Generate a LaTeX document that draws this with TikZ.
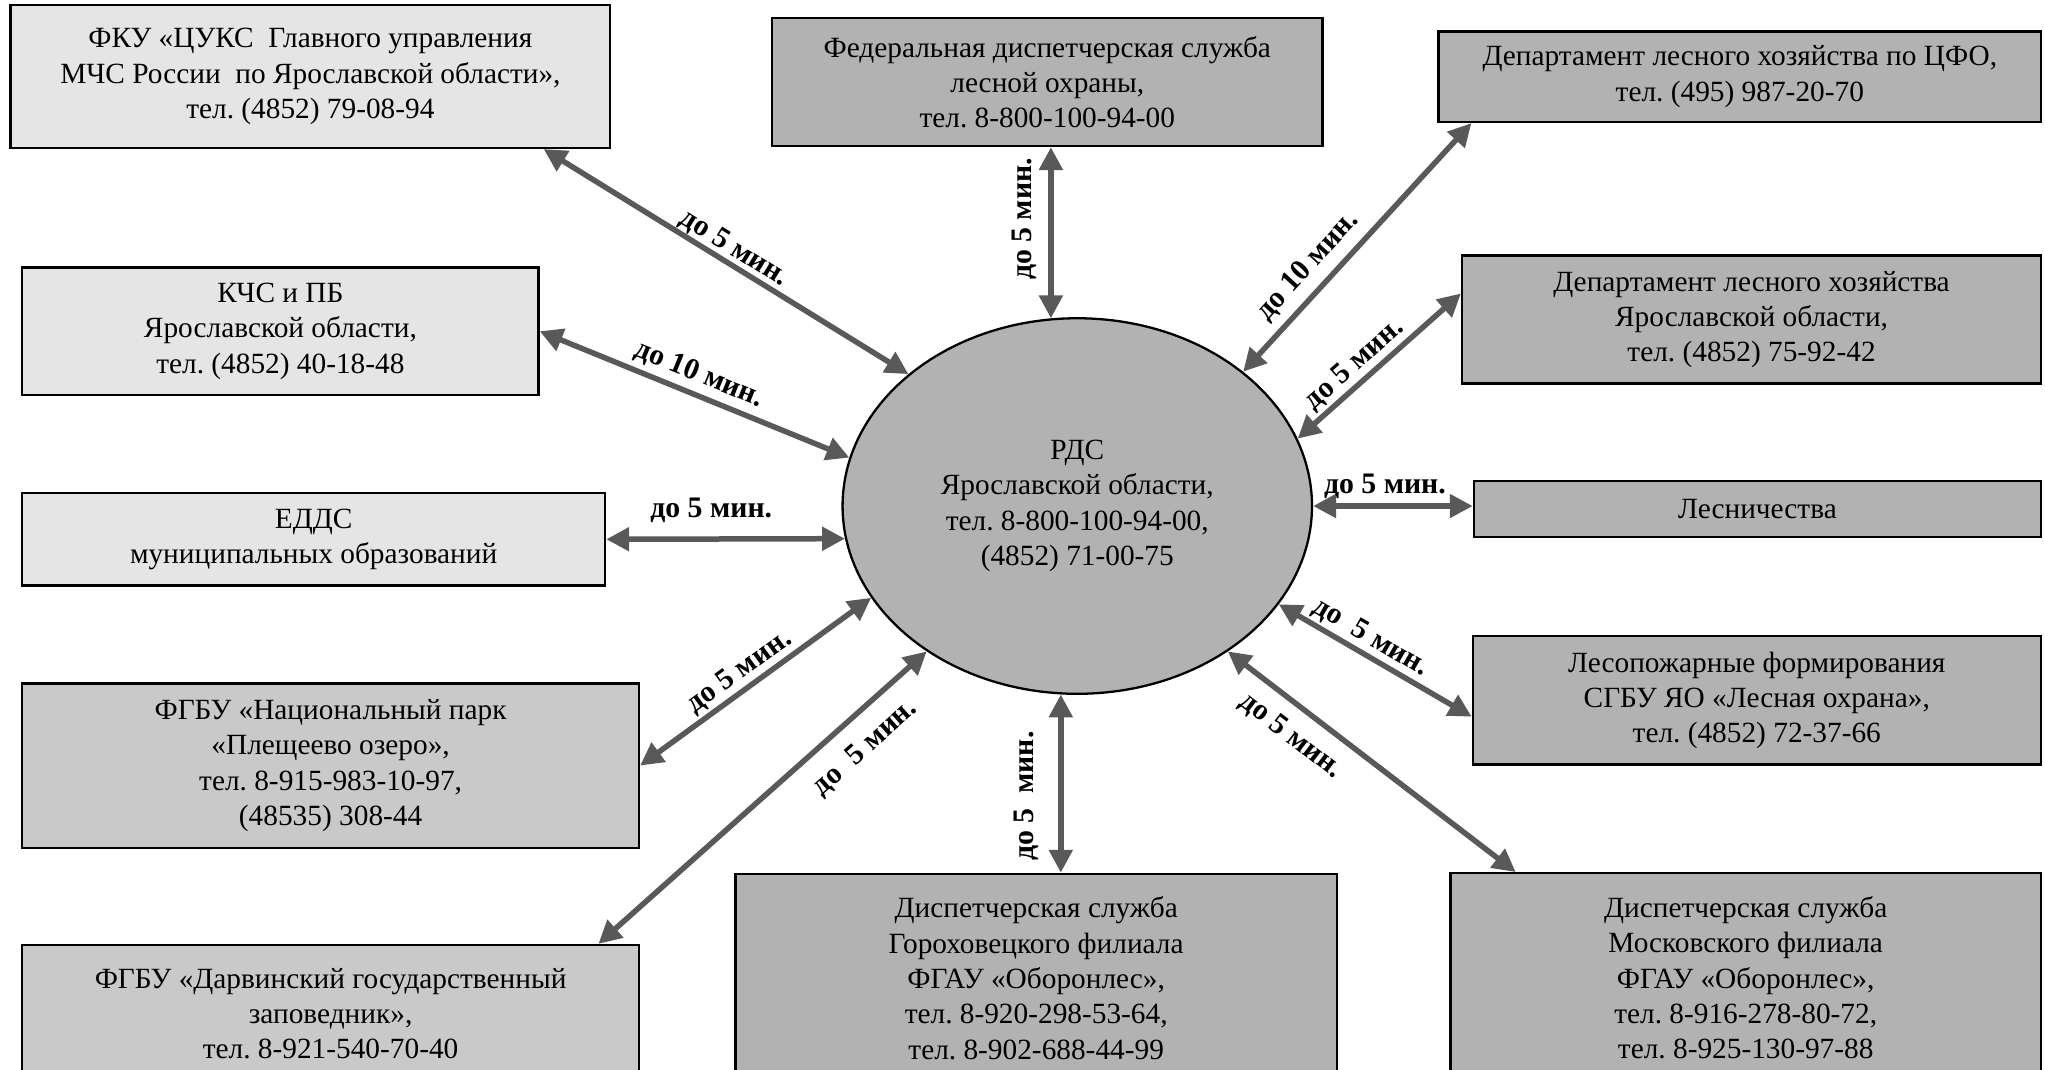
\documentclass[tikz,border=0pt]{standalone}
\usepackage{fontspec}
\setmainfont{Liberation Serif}
\usepackage{tikz}
\usetikzlibrary{arrows.meta,calc,shapes.geometric}
\frenchspacing

\tikzset{
  box/.style={draw, line width=1pt, align=center, inner sep=2pt, font=\fontsize{12.8}{15.4}\selectfont},
  boxlight/.style={box, fill=black!10},
  boxmid/.style={box, fill=black!21},
  boxdark/.style={box, fill=black!30},
  link/.style={line width=2.4pt, draw=black!65, {Triangle[length=10pt,width=10pt]}-{Triangle[length=10pt,width=10pt]}},
  lbl/.style={font=\fontsize{13}{15}\selectfont\bfseries, inner sep=0pt, sloped}
}

\begin{document}
\begin{tikzpicture}[x=0.02cm, y=-0.02cm]
    \useasboundingbox (0,0) rectangle (1568,820);
    %
    \node[boxdark, ellipse, inner sep=0pt, minimum width=7.2cm, minimum height=5.76cm] (rds) at (826,388) {РДС\\Ярославской области,\\тел. 8-800-100-94-00,\\(4852) 71-00-75};

    \node[boxlight, minimum width=9.2cm, minimum height=2.19cm] (fku) at (238,58.75) {ФКУ «ЦУКС\ \ Главного управления\\МЧС России\ \ по Ярославской области»,\\тел. (4852) 79-08-94};
    \node[boxlight, minimum width=7.92cm, minimum height=1.96cm] (kchs) at (215,254) {КЧС и ПБ\\Ярославской области,\\тел. (4852) 40-18-48};
    \node[boxlight, minimum width=8.94cm, minimum height=1.42cm] (edds) at (240.5,413.5) {ЕДДС\\муниципальных образований};
    \node[boxmid, minimum width=9.46cm, minimum height=2.52cm] (park) at (253.5,587) {ФГБУ «Национальный парк\\«Плещеево озеро»,\\тел. 8-915-983-10-97,\\(48535) 308-44};
    \node[boxmid, minimum width=9.46cm, minimum height=2.11cm] (darw) at (253.5,777.3) {ФГБУ «Дарвинский государственный\\заповедник»,\\тел. 8-921-540-70-40};

    \node[boxdark, minimum width=8.44cm, minimum height=1.96cm] (fed) at (803,63) {Федеральная диспетчерская служба\\лесной охраны,\\тел. 8-800-100-94-00};
    \node[boxdark, minimum width=9.22cm, minimum height=3.2cm] (gor) at (794.5,750) {Диспетчерская служба\\Гороховецкого филиала\\ФГАУ «Оборонлес»,\\тел. 8-920-298-53-64,\\тел. 8-902-688-44-99};

    \node[boxdark, minimum width=9.24cm, minimum height=1.39cm] (cfo) at (1334,58.8) {Департамент лесного хозяйства по ЦФО,\\тел. (495) 987-20-70};
    \node[boxdark, minimum width=8.88cm, minimum height=1.96cm] (dly) at (1343,245) {Департамент лесного хозяйства\\Ярославской области,\\тел. (4852) 75-92-42};
    \node[boxdark, minimum width=8.7cm, minimum height=0.86cm] (lesn) at (1347.5,390.5) {Лесничества};
    \node[boxdark, minimum width=8.71cm, minimum height=1.97cm] (lpf) at (1347,537) {Лесопожарные формирования\\СГБУ ЯО «Лесная охрана»,\\тел. (4852) 72-37-66};
    \node[boxdark, minimum width=9.06cm, minimum height=3.21cm] (mos) at (1338.5,749.75) {Диспетчерская служба\\Московского филиала\\ФГАУ «Оборонлес»,\\тел. 8-916-278-80-72,\\тел. 8-925-130-97-88};
    %
    \draw[link] ($(fku.south east)+(-52,0)$) -- (rds.142) node[lbl, pos=0.5, above] {до 5 мин.};
    \draw[link] (rds.98) -- (rds.98 |- fed.south) node[lbl, pos=0.58, above=5pt] {до 5 мин.};
    \draw[link] (rds.39) -- ($(cfo.south west)+(26,0)$) node[lbl, pos=0.36, above=3.7pt] {до 10 мин.};
    \draw[link] (kchs.east) -- (rds.168) node[lbl, pos=0.49, above=2.2pt] {до 10 мин.};
    \draw[link] (rds.17) -- ($(dly.west)+(0,-20)$) node[lbl, pos=0.42, above=1pt] {до 5 мин.};
    \draw[link] (edds.east) -- (rds.188) node[lbl, pos=0.44, above=6pt] {до 5 мин.};
    \draw[link] (rds.east) -- (rds.east -| lesn.west) node[lbl, pos=0.45, above=2pt] {до 5 мин.};
    \draw[link] (park.east) -- (rds.204) node[lbl, pos=0.475, above=1pt] {до 5 мин.};
    \draw[link] (rds.-26) -- ($(lpf.west)+(0,12.5)$) node[lbl, pos=0.43, above=1pt] {до\ \ 5 мин.};
    \draw[link] ($(darw.north east)+(-32,0)$) -- (rds.224) node[lbl, pos=0.75, below=7pt] {до\ \ 5 мин.};
    \draw[link] (gor.north -| rds.-95) -- (rds.-95) node[lbl, pos=0.43, above=8.5pt] {до 5\ \ мин.};
    \draw[link] (rds.-44) -- ($(mos.north west)+(51,0)$) node[lbl, pos=0.28, below=6pt] {до 5 мин.};
    %
\end{tikzpicture}
\end{document}
